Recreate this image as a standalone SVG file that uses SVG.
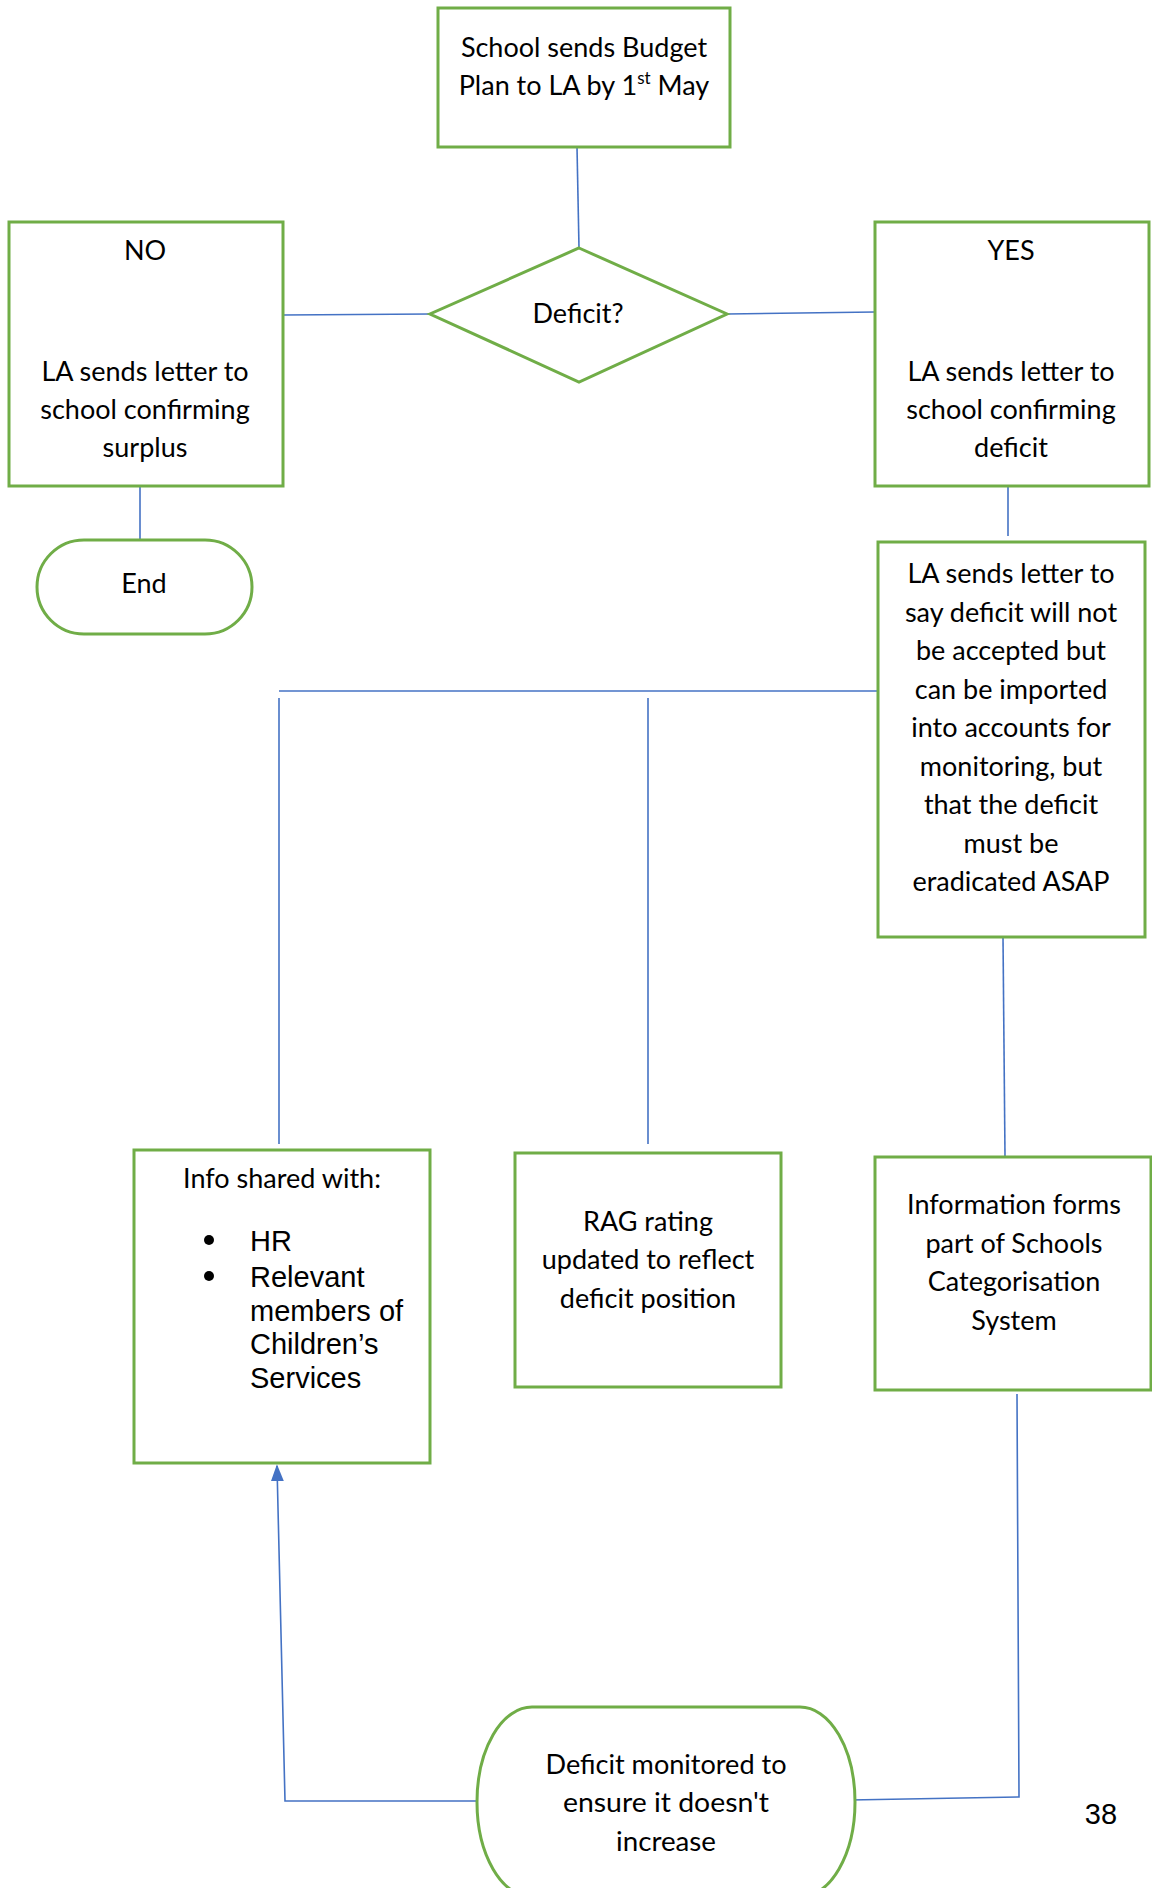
<svg xmlns="http://www.w3.org/2000/svg" width="1152" height="1888" viewBox="0 0 1152 1888">
<defs>
<style>
.box{fill:#fff;stroke:#70AD47;stroke-width:3}
.con{fill:none;stroke:#4472C4;stroke-width:1.6}
.t{font-family:Lato,"Open Sans","Liberation Sans",sans-serif;font-size:27px;fill:#000;text-anchor:middle}
.a{font-family:"Liberation Sans",Arial,sans-serif;font-size:29px;fill:#000}
</style>
<marker id="arr" viewBox="0 0 10 10" refX="9" refY="5" markerUnits="userSpaceOnUse" markerWidth="17" markerHeight="13" orient="auto" preserveAspectRatio="none">
<path d="M0,0 L10,5 L0,10 z" fill="#4472C4"/>
</marker>
</defs>
<rect width="1152" height="1888" fill="#fff"/>
<g id="connectors">
<line class="con" x1="577" y1="147" x2="579" y2="248"/>
<line class="con" x1="283" y1="315" x2="430" y2="314"/>
<line class="con" x1="727" y1="314" x2="875" y2="312"/>
<line class="con" x1="140" y1="486" x2="140" y2="540"/>
<line class="con" x1="1008" y1="486" x2="1008" y2="536"/>
<line class="con" x1="279" y1="691" x2="878" y2="691"/>
<line class="con" x1="279" y1="698" x2="279" y2="1144"/>
<line class="con" x1="648" y1="698" x2="648" y2="1144"/>
<line class="con" x1="1003" y1="937" x2="1005" y2="1156"/>
<polyline class="con" points="1017,1394 1019,1797 850,1800"/>
<polyline class="con" points="477,1801 285,1801 277,1466" marker-end="url(#arr)"/>
</g>
<g id="start">
<rect class="box" x="438" y="8" width="292" height="139"/>
<text class="t" x="584" y="57">School sends Budget</text>
<text class="t" x="584" y="95">Plan to LA by 1<tspan font-size="17" dy="-11">st</tspan><tspan dy="11"> May</tspan></text>
</g>
<g id="decision">
<polygon class="box" points="579,248 727,314 579,382 430,314"/>
<text class="t" x="578" y="323">Deficit?</text>
</g>
<g id="no">
<rect class="box" x="9" y="222" width="274" height="264"/>
<text class="t" x="145" y="260">NO</text>
<text class="t" x="145" y="381">LA sends letter to</text>
<text class="t" x="145" y="419">school confirming</text>
<text class="t" x="145" y="457">surplus</text>
</g>
<g id="end">
<rect class="box" x="37" y="540" width="215" height="94" rx="47" ry="47"/>
<text class="t" x="144" y="593">End</text>
</g>
<g id="yes">
<rect class="box" x="875" y="222" width="274" height="264"/>
<text class="t" x="1011" y="260">YES</text>
<text class="t" x="1011" y="381">LA sends letter to</text>
<text class="t" x="1011" y="419">school confirming</text>
<text class="t" x="1011" y="457">deficit</text>
</g>
<g id="notaccepted">
<rect class="box" x="878" y="542" width="267" height="395"/>
<text class="t" x="1011" y="583">LA sends letter to</text>
<text class="t" x="1011" y="622">say deficit will not</text>
<text class="t" x="1011" y="660">be accepted but</text>
<text class="t" x="1011" y="699">can be imported</text>
<text class="t" x="1011" y="737">into accounts for</text>
<text class="t" x="1011" y="776">monitoring, but</text>
<text class="t" x="1011" y="814">that the deficit</text>
<text class="t" x="1011" y="853">must be</text>
<text class="t" x="1011" y="891">eradicated ASAP</text>
</g>
<g id="info">
<rect class="box" x="134" y="1150" width="296" height="313"/>
<text class="t" x="282" y="1188">Info shared with:</text>
<circle cx="209" cy="1240" r="5" fill="#000"/>
<circle cx="209" cy="1276" r="5" fill="#000"/>
<text class="a" x="250" y="1251">HR</text>
<text class="a" x="250" y="1287">Relevant</text>
<text class="a" x="250" y="1321">members of</text>
<text class="a" x="250" y="1354">Children’s</text>
<text class="a" x="250" y="1388">Services</text>
</g>
<g id="rag">
<rect class="box" x="515" y="1153" width="266" height="234"/>
<text class="t" x="648" y="1231">RAG rating</text>
<text class="t" x="648" y="1269">updated to reflect</text>
<text class="t" x="648" y="1308">deficit position</text>
</g>
<g id="categorisation">
<rect class="box" x="875" y="1157" width="276" height="233"/>
<text class="t" x="1014" y="1214">Information forms</text>
<text class="t" x="1014" y="1253">part of Schools</text>
<text class="t" x="1014" y="1291">Categorisation</text>
<text class="t" x="1014" y="1330">System</text>
</g>
<g id="monitor">
<rect class="box" x="477" y="1707" width="378" height="190" rx="55" ry="95"/>
<text class="t" x="666" y="1774" textLength="241" lengthAdjust="spacingAndGlyphs">Deficit monitored to</text>
<text class="t" x="666" y="1812" textLength="206" lengthAdjust="spacingAndGlyphs">ensure it doesn't</text>
<text class="t" x="666" y="1851" textLength="100" lengthAdjust="spacingAndGlyphs">increase</text>
</g>
<text class="a" x="1101" y="1824" text-anchor="middle" font-size="32">38</text>
</svg>
